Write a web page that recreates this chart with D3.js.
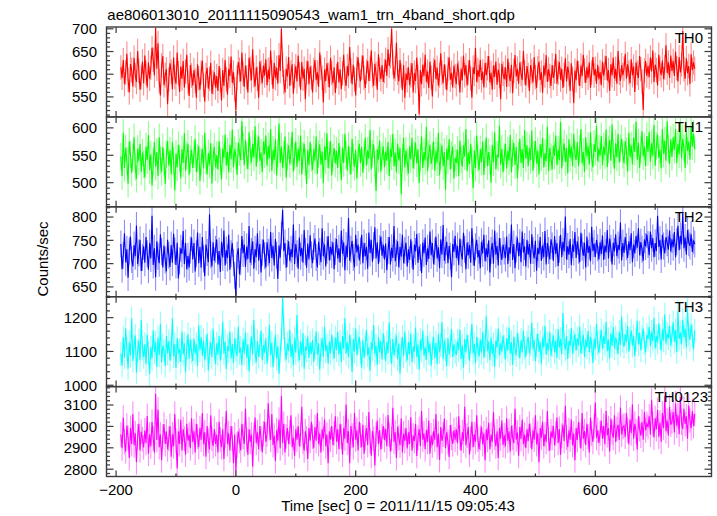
<!DOCTYPE html>
<html><head><meta charset="utf-8">
<script src="https://cdn.jsdelivr.net/npm/d3@7"></script>
<style>body{margin:0;background:#fff} text{font-family:"Liberation Sans",Arial,Helvetica,sans-serif}</style>
</head><body><svg id="c" width="717" height="516"></svg>
<script>
// time bins: start and step (seconds since 2011/11/15 09:05:43)
const tStart = -192, tStep = 2;

const th0 = [615,592,631,578,604,645,588,560,622,609,573,636,598,583,651,607,566,594,628,580,
641,603,571,626,590,614,658,632,597,702,612,668,585,553,619,640,576,598,611,534,
588,624,605,567,637,594,579,648,602,561,617,590,629,571,606,643,583,552,620,597,
575,609,586,548,622,591,566,603,630,577,540,598,614,568,590,625,557,582,604,571,
596,563,618,587,542,609,574,631,589,555,612,596,639,581,604,567,520,593,627,610,
584,648,601,572,619,593,560,636,612,587,655,598,573,615,590,548,628,604,581,619,
597,633,576,610,589,652,604,568,625,591,614,579,642,607,700,621,583,560,612,595,
638,574,603,622,557,596,618,584,641,600,566,627,590,612,545,603,629,578,617,592,
560,609,631,587,604,572,648,615,592,538,610,585,624,599,571,636,603,580,615,559,
596,627,582,611,567,602,643,590,574,618,596,660,608,578,621,589,553,612,637,598,
584,615,641,592,570,606,629,585,612,652,598,575,623,601,566,644,610,589,620,583,
607,632,596,655,618,640,700,626,590,612,669,603,584,631,597,565,620,548,602,587,
615,576,598,624,560,603,585,637,594,512,609,578,621,596,643,583,606,570,628,592,
551,608,632,589,614,575,598,646,603,580,622,594,565,611,637,588,603,571,619,596,
578,624,603,560,612,587,641,598,620,575,604,631,590,548,615,600,658,583,609,594,
632,587,606,571,625,598,613,640,582,603,566,619,594,628,577,610,597,545,623,601,
589,615,572,634,600,585,621,558,607,642,595,612,579,626,601,587,651,604,575,618,
598,563,620,606,582,638,594,570,613,628,587,604,559,619,597,642,583,611,596,574,
620,592,606,645,579,603,627,588,612,570,599,635,584,617,601,563,624,590,536,608,
587,630,602,574,619,596,643,608,581,615,592,626,570,604,638,597,612,579,621,589,
605,576,628,597,614,640,586,609,563,622,598,637,590,612,579,651,603,585,620,598,
612,645,590,622,604,580,633,598,617,561,626,603,592,640,611,584,521,608,629,597,
618,594,637,606,652,583,621,609,575,643,612,598,630,589,615,664,603,626,592,641,
607,629,596,650,613,584,638,604,622,695,611,590,635,602,618,578,644,609,626,612];

const th1 = [548,512,591,527,563,540,498,575,552,518,546,583,529,507,562,539,571,520,555,534,
509,566,541,587,523,552,495,538,574,529,556,512,583,541,520,565,537,498,552,576,
531,559,515,574,540,486,553,528,569,544,508,561,536,590,522,549,571,514,543,560,
527,552,580,519,545,567,503,538,562,526,591,541,515,554,533,572,498,547,565,528,
550,524,576,539,506,562,545,588,531,557,519,569,543,597,528,561,549,514,573,556,
541,612,566,532,578,549,525,592,558,537,571,546,603,529,562,584,540,555,519,575,
552,586,531,567,544,598,522,560,541,579,513,553,608,536,566,527,551,584,509,547,
568,534,557,593,520,548,575,529,562,540,586,515,549,571,538,497,560,532,574,545,
523,561,540,584,516,552,570,533,557,499,566,541,590,527,550,576,513,546,563,535,
558,527,573,542,505,564,536,589,551,522,567,540,515,580,546,529,560,507,553,571,
536,565,518,550,582,531,559,544,596,524,553,570,533,485,561,542,577,520,548,566,
528,557,540,574,512,562,547,589,530,555,519,571,541,563,479,545,582,528,559,538,
517,566,543,582,526,550,573,535,561,499,546,584,527,556,540,602,521,553,569,534,
549,575,522,558,537,591,513,547,568,530,556,487,562,541,579,524,550,566,508,545,
536,560,512,577,543,529,568,548,598,521,555,534,571,540,490,559,527,586,545,523,
561,538,575,514,552,583,530,556,541,500,569,537,592,524,551,546,604,533,562,519,
547,571,526,558,540,587,519,554,573,532,565,508,549,580,536,561,527,596,544,568,
530,563,541,595,522,551,576,535,558,515,570,546,582,528,554,539,602,521,563,547,
524,568,549,586,532,560,541,610,526,555,572,538,563,517,579,545,566,530,589,552,
541,574,530,562,598,535,556,520,583,548,567,533,592,545,528,571,556,604,539,562,
549,585,532,566,550,597,528,561,578,540,606,553,525,572,546,589,537,563,580,551,
535,576,558,520,591,547,568,533,582,556,611,542,573,527,560,594,548,566,530,585,
556,593,538,572,549,605,531,567,588,545,560,526,598,553,577,540,612,562,534,579,
547,583,560,598,536,571,552,609,544,580,563,527,594,558,575,542,603,566,589,561];

const th2 = [742,688,718,765,703,731,670,727,758,709,694,740,716,782,699,723,751,684,713,737,
702,757,721,687,744,711,803,697,733,671,748,716,701,763,726,692,739,708,683,751,
718,693,740,702,764,727,697,745,668,706,733,721,770,699,744,688,716,692,729,756,
709,744,683,721,767,701,736,691,757,710,673,741,724,703,806,719,694,746,706,731,
752,698,727,682,747,713,771,696,729,712,762,687,721,744,702,675,630,718,733,677,
704,759,722,741,693,736,710,781,702,726,748,689,731,714,765,706,742,681,724,751,
717,692,746,724,701,768,712,738,696,753,718,667,739,713,761,815,727,744,691,722,
748,706,731,714,784,699,742,721,689,756,716,734,702,772,726,691,743,709,761,719,
701,737,754,713,692,747,726,703,776,716,741,694,729,759,707,736,719,746,688,726,
753,711,733,702,771,721,746,686,739,714,798,706,731,749,713,692,762,724,741,707,
727,762,701,744,716,736,689,767,723,751,704,739,778,711,746,699,732,758,717,741,
709,743,686,728,757,698,734,712,781,705,723,748,692,736,715,762,701,728,745,694,
731,708,752,719,687,741,726,764,702,737,713,680,745,722,756,697,733,710,769,718,
744,699,726,758,711,735,690,752,719,783,706,729,747,701,738,716,671,742,725,760,
712,738,697,754,723,709,766,731,688,745,718,740,702,776,725,695,736,751,713,729,
690,747,722,762,705,733,714,750,681,728,744,700,771,719,738,696,755,726,708,741,
727,712,758,699,735,721,784,708,742,690,731,756,716,745,703,769,724,737,694,751,
719,742,700,763,728,711,749,685,734,720,757,706,739,714,770,698,744,728,709,752,
738,706,759,721,744,695,731,762,714,747,726,801,709,737,719,753,697,741,725,768,
712,748,729,703,766,735,717,745,692,758,723,738,705,779,727,743,714,751,734,709,
746,721,761,708,739,724,772,711,754,733,698,745,726,763,716,740,729,788,707,744,
723,757,736,712,748,729,765,703,741,722,759,734,776,718,746,731,706,752,737,763,
741,718,769,733,755,714,744,727,803,736,751,709,762,738,722,757,745,730,771,726,
752,735,768,714,747,781,729,760,741,809,733,756,719,772,745,738,763,725,750,742];

const th3 = [1093,1058,1142,1082,1168,1107,1049,1127,1088,1198,1072,1116,1147,1038,1101,1132,1074,1193,1109,1084,
1121,1062,1149,1096,1033,1112,1079,1163,1098,1126,1054,1141,1089,1183,1068,1117,1102,1057,1146,1094,
1131,1073,1108,1198,1086,1121,1051,1139,1097,1104,1069,1158,1092,1124,1039,1111,1151,1078,1136,1099,
1072,1138,1094,1121,1058,1177,1103,1143,1087,1133,1073,1114,1152,1044,1099,1127,1083,1167,1108,1062,
1124,1091,1146,1073,1112,1188,1094,1129,1048,1116,1101,1158,1079,1122,1066,1138,1104,1086,1173,1096,
1111,1059,1136,1094,1156,1081,1121,1041,1106,1144,1091,1193,1099,1068,1131,1084,1116,1161,1074,1119,
1096,1139,1064,1109,1179,1089,1126,1053,1104,1149,1079,1116,1034,1101,1134,1262,1171,1106,1076,1124,
1101,1164,1084,1121,1059,1141,1096,1208,1104,1074,1131,1089,1154,1049,1114,1102,1144,1081,1126,1093,
1134,1069,1111,1159,1091,1124,1046,1106,1139,1084,1173,1101,1119,1064,1129,1094,1149,1109,1079,1141,
1104,1158,1091,1129,1069,1146,1108,1198,1094,1126,1084,1149,1114,1039,1136,1099,1168,1089,1124,1143,
1097,1052,1133,1081,1119,1164,1088,1112,1043,1127,1106,1178,1092,1118,1061,1142,1098,1131,1076,1154,
1113,1071,1128,1095,1186,1102,1063,1137,1089,1119,1148,1077,1124,1035,1107,1143,1086,1159,1101,1073,
1128,1092,1153,1068,1115,1099,1171,1083,1121,1046,1134,1104,1162,1087,1112,1075,1147,1096,1124,1058,
1109,1142,1081,1126,1063,1151,1098,1119,1187,1077,1132,1105,1056,1139,1091,1116,1166,1084,1121,1100,
1089,1131,1104,1164,1078,1118,1052,1137,1097,1149,1113,1071,1128,1181,1094,1122,1066,1143,1107,1085,
1136,1096,1158,1082,1117,1203,1101,1129,1074,1141,1093,1121,1054,1133,1112,1168,1088,1124,1099,1147,
1114,1076,1139,1102,1171,1093,1127,1061,1144,1108,1089,1155,1118,1079,1134,1097,1162,1111,1084,1126,
1143,1094,1121,1185,1106,1134,1072,1117,1152,1099,1128,1064,1141,1113,1176,1091,1125,1103,1158,1087,
1119,1148,1097,1132,1081,1166,1111,1137,1092,1214,1123,1105,1146,1078,1131,1116,1169,1094,1127,1152,
1102,1139,1118,1174,1093,1128,1149,1084,1134,1112,1161,1097,1143,1121,1066,1137,1108,1182,1124,1096,
1131,1164,1107,1145,1122,1188,1101,1136,1079,1153,1117,1172,1109,1141,1126,1093,1158,1119,1203,1132,
1114,1151,1128,1176,1099,1139,1162,1117,1145,1086,1134,1191,1121,1156,1103,1142,1168,1125,1097,1149,
1138,1172,1116,1158,1131,1199,1109,1146,1127,1183,1141,1102,1165,1133,1209,1124,1152,1139,1176,1118,
1145,1187,1129,1163,1098,1218,1137,1156,1121,1194,1143,1168,1112,1226,1151,1134,1179,1147,1106,1162];

const th0123 = [2962,2898,3041,2928,2883,3004,2947,2852,2993,2918,3058,2912,2968,2833,2953,3012,2888,2976,2940,2902,
2981,2923,3049,2872,2962,2907,3021,2943,2878,3152,2937,3079,2903,2963,2842,2952,3011,2918,2977,2893,
2942,3002,2858,2963,2908,3058,2932,2804,2977,2918,3031,2888,2987,2943,2868,3012,2933,2962,2898,3038,
2928,2977,2878,3012,2952,2903,2992,2938,3062,2918,2972,2858,3002,2933,2893,3052,2943,2908,2988,2918,
2962,2878,3022,2938,2903,2987,2848,2957,3072,2918,2968,2888,3002,2943,2828,2962,2792,2913,2977,2933,
2888,3012,2952,2918,3082,2938,2868,2987,2928,2962,2812,2957,3042,2923,2972,2893,3002,2943,2878,2967,
3022,2928,2962,3108,2992,2938,3058,2913,2957,2838,2982,2933,3032,2898,3142,2923,3012,2878,2952,2992,
2918,2972,3052,2903,2947,2863,2987,2938,3002,2908,2962,3092,2928,2888,2977,2943,2848,2992,2933,3022,
2952,2898,2997,2933,3062,2918,2967,2878,2987,2943,3032,2908,2962,2828,2977,2938,3002,2913,2967,3047,
2928,2987,2893,3012,2952,2868,2992,2943,3102,2923,2977,2828,3002,2957,2903,3062,2938,2982,2888,3022,
2958,2903,3008,2872,2947,2992,2913,3067,2933,2863,2978,2942,2818,2962,3027,2917,2983,2892,2953,3002,
2937,2988,2907,3053,2962,2882,2943,3087,2928,2973,2852,2998,2947,2912,3037,2878,2967,2932,2993,2897,
2972,2918,3043,2887,2957,2932,3012,2862,2948,2987,2908,3072,2938,2967,2893,2983,2928,3027,2873,2958,
2912,2978,2938,3058,2903,2967,2843,2997,2932,2962,3037,2898,2972,2927,2857,3007,2947,2918,2982,2938,
2987,2922,3047,2948,2887,2973,2933,3092,2912,2957,2997,2868,2942,3022,2903,2963,2928,3052,2938,2893,
2947,2998,2917,2968,2842,2987,2937,3017,2893,2962,2928,3067,2948,2907,2977,2853,2992,2943,3027,2913,
2958,2908,3038,2933,2977,2883,3003,2947,2922,3082,2938,2972,2863,2997,2942,3032,2917,2962,2898,2987,
2932,3012,2957,2893,2982,2938,3052,2917,2968,2833,2992,2947,3022,2908,2963,2928,3072,2942,2887,2977,
2947,3002,2912,2967,3042,2923,2988,2868,2957,3007,2932,3097,2948,2903,2982,2938,3032,2913,2967,2842,
2992,2937,3022,2958,2897,3062,2943,2978,2913,3012,2952,2878,3042,2967,2928,2998,3112,2947,2982,2923,
2968,3027,2943,3002,2917,3072,2958,2992,2883,3037,2972,2947,3052,2927,2987,3008,2937,3088,2962,2998,
3003,2952,3062,2982,2917,3032,2968,3102,2943,3012,2977,2892,3047,2988,2957,3022,2938,3068,2982,3012,
2997,3047,2962,3122,3012,2948,3038,2987,3077,2952,3018,2928,3062,2993,3142,2978,3027,2958,3092,3008,
3022,3067,2972,3107,3003,3052,2963,3137,3017,2988,3082,3012,3047,2942,3097,3028,2992,3072,3002,3058];

const bands = ["TH0","TH1","TH2","TH3","TH0123"];
const seriesList = [th0, th1, th2, th3, th0123];
const errors = [27, 25, 29, 35, 58];
const colors = ["#ff0000","#00ff00","#0000ff","#00ffff","#ff00ff"];
const yDomains = [[506,704],[456,620],[629,822],[996,1262],[2766,3186]];
const yTickVals = [[550,600,650,700],[500,550,600],[650,700,750,800],[1000,1100,1200],[2800,2900,3000,3100]];
const yMinorStep = [10,10,10,20,20];
const xDomain = [-216, 794];
const xTickVals = [-200,0,200,400,600];
const xMinorVals = [-100,100,300,500,700];
const title = "ae806013010_20111115090543_wam1_trn_4band_short.qdp";
const xLabel = "Time [sec] 0 = 2011/11/15 09:05:43";
const yLabel = "Counts/sec";

const svg = d3.select("#c");
const L = 106.5, R = 711.5, T = 27, PH = 89.9;
const frameColor = "#3a3a3a";
const x = d3.scaleLinear().domain(xDomain).range([L, R]);
const fmt = d3.format("d");

seriesList.forEach((vals, i) => {
  const top = T + i * PH, bot = top + PH;
  const y = d3.scaleLinear().domain(yDomains[i]).range([bot, top]);
  const g = svg.append("g");
  const cid = "clip" + i;
  svg.append("clipPath").attr("id", cid).append("rect")
    .attr("x", L).attr("y", top).attr("width", R - L).attr("height", PH);
  const dg = g.append("g").attr("clip-path", `url(#${cid})`);
  const pts = vals.map((v, k) => ({t: tStart + k * tStep, v}));
  // error bars
  dg.append("g").selectAll("line").data(pts).join("line")
    .attr("x1", d => x(d.t)).attr("x2", d => x(d.t))
    .attr("y1", d => y(d.v - errors[i])).attr("y2", d => y(d.v + errors[i]))
    .attr("stroke", colors[i]).attr("stroke-opacity", 0.45).attr("stroke-width", 1.1);
  dg.append("path").datum(pts)
    .attr("d", d3.line().x(d => x(d.t)).y(d => y(d.v)))
    .attr("fill", "none").attr("stroke", colors[i]).attr("stroke-width", 1.1);

  // frame
  g.append("rect").attr("x", L).attr("y", top).attr("width", R - L).attr("height", PH)
    .attr("fill", "none").attr("stroke", frameColor).attr("stroke-width", 1.4);

  const tk = g.append("g").attr("stroke", frameColor).attr("stroke-width", 1.2);
  xTickVals.forEach(v => {
    tk.append("line").attr("x1", x(v)).attr("x2", x(v)).attr("y1", bot).attr("y2", bot - 6);
    tk.append("line").attr("x1", x(v)).attr("x2", x(v)).attr("y1", top).attr("y2", top + 6);
  });
  xMinorVals.forEach(v => {
    tk.append("line").attr("x1", x(v)).attr("x2", x(v)).attr("y1", bot).attr("y2", bot - 3);
    tk.append("line").attr("x1", x(v)).attr("x2", x(v)).attr("y1", top).attr("y2", top + 3);
  });
  const st = yMinorStep[i];
  const minors = d3.range(Math.ceil(yDomains[i][0] / st) * st, yDomains[i][1], st)
    .filter(v => !yTickVals[i].includes(v));
  minors.forEach(v => {
    tk.append("line").attr("x1", L).attr("x2", L + 3.5).attr("y1", y(v)).attr("y2", y(v));
    tk.append("line").attr("x1", R).attr("x2", R - 3.5).attr("y1", y(v)).attr("y2", y(v));
  });
  yTickVals[i].forEach(v => {
    tk.append("line").attr("x1", L).attr("x2", L + 7).attr("y1", y(v)).attr("y2", y(v));
    tk.append("line").attr("x1", R).attr("x2", R - 7).attr("y1", y(v)).attr("y2", y(v));
    g.append("text").attr("x", L - 9.5).attr("y", y(v)).attr("dy", "0.36em")
      .attr("text-anchor", "end").attr("font-size", 15).attr("fill", "#000").text(fmt(v));
  });
  g.append("text").attr("x", i === 4 ? 708 : 703).attr("y", top + 15.5)
    .attr("text-anchor", "end").attr("font-size", 15).attr("fill", "#000").text(bands[i]);

  if (i === 4) {
    xTickVals.forEach(v => {
      g.append("text").attr("x", x(v)).attr("y", bot + 18.5).attr("text-anchor", "middle")
        .attr("font-size", 15).attr("fill", "#000").text(fmt(v).replace("-", "\u2212"));
    });
  }
});

svg.append("text").attr("x", 107.3).attr("y", 19.5).attr("font-size", 15).attr("fill", "#000").text(title);
svg.append("text").attr("x", 398).attr("y", 510.5).attr("text-anchor", "middle")
  .attr("font-size", 15).attr("fill", "#000").text(xLabel);
svg.append("text").attr("transform", "translate(47.5,259) rotate(-90)").attr("text-anchor", "middle")
  .attr("font-size", 15).attr("fill", "#000").text(yLabel);
</script>
</body></html>
